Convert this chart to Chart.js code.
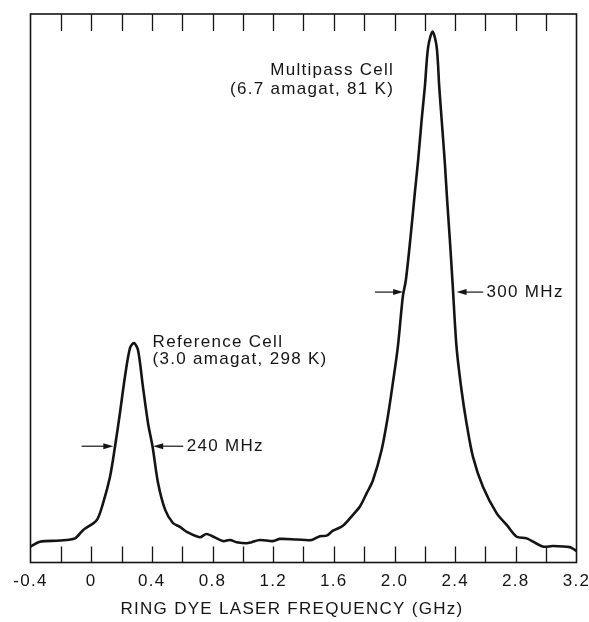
<!DOCTYPE html>
<html>
<head>
<meta charset="utf-8">
<script src="https://cdn.jsdelivr.net/npm/chart.js@4.4.0/dist/chart.umd.min.js"></script>
<style>
  html, body { margin: 0; padding: 0; background: #fff; }
  #wrap { width: 589px; height: 622px; }
</style>
</head>
<body>
<div id="wrap"><canvas id="chart"></canvas></div>
<script>
// trace (arbitrary intensity units, 0..100 = bottom..top of frame)
const freqGHz = [
  -0.400, -0.338, -0.206, -0.107, -0.054, 0.036, 0.078, 0.124, 0.157, 0.190,
  0.223, 0.256, 0.282, 0.309, 0.341, 0.375, 0.405, 0.441, 0.488, 0.539,
  0.585, 0.630, 0.717, 0.761, 0.869, 0.915, 0.959, 1.025, 1.058, 1.113,
  1.198, 1.245, 1.355, 1.454, 1.508, 1.552, 1.594, 1.660, 1.726, 1.772,
  1.816, 1.858, 1.915, 1.956, 1.989, 2.022, 2.055, 2.075, 2.106, 2.134,
  2.156, 2.179, 2.200, 2.222, 2.251, 2.278, 2.295, 2.311, 2.332, 2.347,
  2.365, 2.383, 2.409, 2.442, 2.475, 2.517, 2.583, 2.673, 2.741, 2.805,
  2.871, 2.978, 3.044, 3.156, 3.189, 3.200
];
const signal = [
  2.9, 3.8, 4.0, 4.4, 5.9, 7.7, 10.8, 15.6, 21.1, 27.3,
  33.9, 39.1, 40.0, 38.7, 32.1, 25.4, 21.1, 14.5, 9.6, 7.2,
  6.5, 5.6, 4.6, 5.2, 3.9, 4.1, 3.7, 3.5, 3.7, 4.1,
  3.9, 4.3, 4.2, 4.1, 4.8, 4.9, 5.8, 6.7, 8.7, 10.2,
  12.6, 15.0, 20.5, 26.6, 32.7, 39.3, 48.5, 51.5, 59.4, 67.4,
  73.4, 80.7, 86.7, 94.0, 96.8, 94.0, 86.7, 80.7, 72.8, 66.1,
  58.8, 50.9, 39.3, 31.4, 25.4, 19.3, 13.8, 9.0, 6.8, 4.7,
  4.4, 2.9, 3.0, 2.8, 2.3, 2.1
];
const tickValues = [-0.4, -0.2, 0, 0.2, 0.4, 0.6, 0.8, 1.0, 1.2, 1.4, 1.6, 1.8, 2.0, 2.2, 2.4, 2.6, 2.8, 3.0, 3.2];
const tickLabels = ['-0.4', '', '0', '', '0.4', '', '0.8', '', '1.2', '', '1.6', '', '2.0', '', '2.4', '', '2.8', '', '3.2'];
const axisTitle = 'RING DYE LASER FREQUENCY (GHz)';

const INK = '#141414';
const FONT = '17px "Liberation Sans", Arial, sans-serif';

// annotations in data units
const notes = [
  { lines: ['Reference Cell', '(3.0 amagat, 298 K)'], x: 0.405, y: [40.2, 37.1], align: 'left' },
  { lines: ['Multipass Cell', '(6.7 amagat, 81 K)'], x: 1.998, y: [89.8, 86.2], align: 'right' }
];
const widths = [
  { y: 21.2, left: [-0.063, 0.146], right: [0.607, 0.409], label: '240 MHz', labelX: 0.630 },
  { y: 49.3, left: [1.871, 2.057], right: [2.585, 2.409], label: '300 MHz', labelX: 2.607 }
];

function arrow(ctx, x0, x1, y) {
  const dir = Math.sign(x1 - x0);
  ctx.beginPath();
  ctx.moveTo(x0, y);
  ctx.lineTo(x1 - dir * 7, y);
  ctx.stroke();
  ctx.beginPath();
  ctx.moveTo(x1, y);
  ctx.lineTo(x1 - dir * 10, y - 3);
  ctx.lineTo(x1 - dir * 10, y + 3);
  ctx.closePath();
  ctx.fill();
}

const frame = {
  id: 'frame',
  beforeDraw(chart) {
    chart.ctx.letterSpacing = '1.3px';
  },
  afterDraw(chart) {
    const { ctx, chartArea: a, scales: { x, y } } = chart;
    ctx.save();
    ctx.strokeStyle = INK;
    ctx.fillStyle = INK;
    ctx.lineWidth = 1.6;
    ctx.strokeRect(a.left, a.top, a.right - a.left, a.bottom - a.top);

    ctx.lineWidth = 1.3;
    x.ticks.forEach(t => {
      const px = Math.round(x.getPixelForValue(t.value)) + 0.5;
      if (px <= a.left + 2 || px >= a.right - 2) return;
      ctx.beginPath();
      ctx.moveTo(px, a.top);
      ctx.lineTo(px, a.top + 17);
      ctx.moveTo(px, a.bottom);
      ctx.lineTo(px, a.bottom - 16);
      ctx.stroke();
    });

    ctx.font = FONT;
    ctx.letterSpacing = '1.3px';
    ctx.textBaseline = 'middle';
    notes.forEach(n => {
      ctx.textAlign = n.align;
      n.lines.forEach((s, i) => ctx.fillText(s, x.getPixelForValue(n.x), y.getPixelForValue(n.y[i])));
    });

    ctx.lineWidth = 1.2;
    ctx.textAlign = 'left';
    widths.forEach(w => {
      const py = y.getPixelForValue(w.y);
      arrow(ctx, x.getPixelForValue(w.left[0]), x.getPixelForValue(w.left[1]), py);
      arrow(ctx, x.getPixelForValue(w.right[0]), x.getPixelForValue(w.right[1]), py);
      ctx.fillText(w.label, x.getPixelForValue(w.labelX), py);
    });

    ctx.textAlign = 'center';
    ctx.fillText(axisTitle, 292, 609);
    ctx.restore();
  }
};

new Chart(document.getElementById('chart'), {
  type: 'line',
  data: {
    datasets: [{
      data: freqGHz.map((f, i) => ({ x: f, y: signal[i] })),
      borderColor: INK,
      borderWidth: 2.6,
      pointRadius: 0,
      tension: 0.3,
      fill: false
    }]
  },
  options: {
    responsive: true,
    maintainAspectRatio: false,
    animation: false,
    events: [],
    layout: { autoPadding: false, padding: { left: 30.5, right: 12.5, top: 14, bottom: 30.1 } },
    plugins: { legend: { display: false }, tooltip: { enabled: false } },
    scales: {
      x: {
        type: 'linear',
        min: -0.4,
        max: 3.2,
        afterBuildTicks: s => { s.ticks = tickValues.map(v => ({ value: v })); },
        afterFit: s => {
          s.height = 29.4;
          s.paddingLeft = 0;
          s.paddingRight = 0;
        },
        ticks: {
          autoSkip: false,
          maxRotation: 0,
          padding: 9,
          color: INK,
          font: { family: '"Liberation Sans", Arial, sans-serif', size: 17 },
          callback: (v, i) => tickLabels[i]
        },
        grid: { display: false, drawTicks: false },
        border: { display: false }
      },
      y: { display: false, min: 0, max: 100 }
    }
  },
  plugins: [frame]
});
</script>
</body>
</html>
